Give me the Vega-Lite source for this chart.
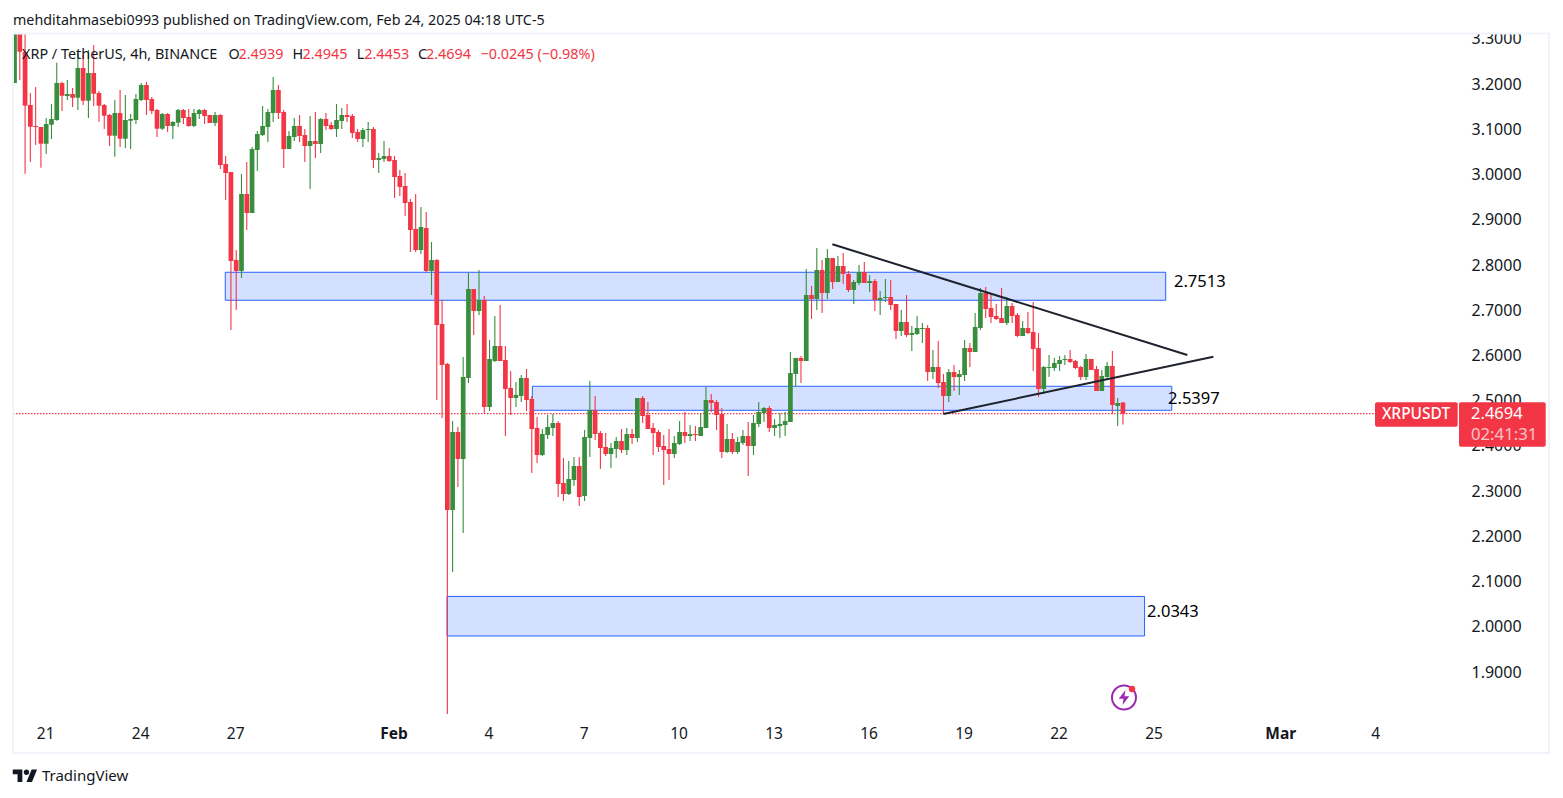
{"$schema":"https://vega.github.io/schema/vega-lite/v6.json","width":1563,"height":798,"padding":0,"autosize":{"type":"none"},"background":"white","view":{"stroke":null},
"datasets":{"candles":[
{"t":"2025-01-20T00:00Z","o":3.2005,"h":3.3177,"l":3.2005,"c":3.3177},
{"t":"2025-01-20T04:00Z","o":3.3088,"h":3.3177,"l":3.2071,"c":3.2697},
{"t":"2025-01-20T08:00Z","o":3.269,"h":3.3088,"l":2.9999,"c":3.1503},
{"t":"2025-01-20T12:00Z","o":3.1518,"h":3.1783,"l":3.0258,"c":3.1038},
{"t":"2025-01-20T16:00Z","o":3.1054,"h":3.1916,"l":3.0633,"c":3.1032},
{"t":"2025-01-20T20:00Z","o":3.1032,"h":3.1032,"l":3.0131,"c":3.0662},
{"t":"2025-01-21T00:00Z","o":3.0662,"h":3.123,"l":3.0434,"c":3.1098},
{"t":"2025-01-21T04:00Z","o":3.1082,"h":3.154,"l":3.0766,"c":3.1208},
{"t":"2025-01-21T08:00Z","o":3.1186,"h":3.2453,"l":3.1171,"c":3.2005},
{"t":"2025-01-21T12:00Z","o":3.2005,"h":3.2033,"l":3.1385,"c":3.1724},
{"t":"2025-01-21T16:00Z","o":3.1717,"h":3.2071,"l":3.1629,"c":3.1761},
{"t":"2025-01-21T20:00Z","o":3.1761,"h":3.1894,"l":3.1474,"c":3.1679},
{"t":"2025-01-22T00:00Z","o":3.1679,"h":3.2668,"l":3.1407,"c":3.2336},
{"t":"2025-01-22T04:00Z","o":3.2336,"h":3.2624,"l":3.1518,"c":3.1613},
{"t":"2025-01-22T08:00Z","o":3.1613,"h":3.2734,"l":3.123,"c":3.2226},
{"t":"2025-01-22T12:00Z","o":3.2226,"h":3.2845,"l":3.1496,"c":3.1768},
{"t":"2025-01-22T16:00Z","o":3.1783,"h":3.1828,"l":3.1149,"c":3.1503},
{"t":"2025-01-22T20:00Z","o":3.1518,"h":3.154,"l":3.0987,"c":3.1281},
{"t":"2025-01-23T00:00Z","o":3.1297,"h":3.1319,"l":3.0611,"c":3.0839},
{"t":"2025-01-23T04:00Z","o":3.0839,"h":3.1629,"l":3.0375,"c":3.1341},
{"t":"2025-01-23T08:00Z","o":3.1341,"h":3.185,"l":3.0589,"c":3.0773},
{"t":"2025-01-23T12:00Z","o":3.0773,"h":3.1739,"l":3.0567,"c":3.1186},
{"t":"2025-01-23T16:00Z","o":3.1171,"h":3.1319,"l":3.0545,"c":3.1208},
{"t":"2025-01-23T20:00Z","o":3.1186,"h":3.1761,"l":3.1098,"c":3.1651},
{"t":"2025-01-24T00:00Z","o":3.1629,"h":3.2005,"l":3.1607,"c":3.196},
{"t":"2025-01-24T04:00Z","o":3.196,"h":3.2027,"l":3.1297,"c":3.1629},
{"t":"2025-01-24T08:00Z","o":3.1651,"h":3.1695,"l":3.1319,"c":3.1385},
{"t":"2025-01-24T12:00Z","o":3.1407,"h":3.143,"l":3.081,"c":3.0994},
{"t":"2025-01-24T16:00Z","o":3.0994,"h":3.1341,"l":3.0965,"c":3.1319},
{"t":"2025-01-24T20:00Z","o":3.1319,"h":3.1341,"l":3.0921,"c":3.1054},
{"t":"2025-01-25T00:00Z","o":3.1054,"h":3.1164,"l":3.0766,"c":3.1142},
{"t":"2025-01-25T04:00Z","o":3.1127,"h":3.143,"l":3.1032,"c":3.1407},
{"t":"2025-01-25T08:00Z","o":3.1407,"h":3.143,"l":3.1098,"c":3.123},
{"t":"2025-01-25T12:00Z","o":3.1253,"h":3.143,"l":3.1038,"c":3.1054},
{"t":"2025-01-25T16:00Z","o":3.1054,"h":3.143,"l":3.1032,"c":3.1341},
{"t":"2025-01-25T20:00Z","o":3.1319,"h":3.143,"l":3.1208,"c":3.1407},
{"t":"2025-01-26T00:00Z","o":3.1407,"h":3.143,"l":3.1098,"c":3.1275},
{"t":"2025-01-26T04:00Z","o":3.1297,"h":3.1297,"l":3.112,"c":3.112},
{"t":"2025-01-26T08:00Z","o":3.112,"h":3.1363,"l":3.1054,"c":3.1297},
{"t":"2025-01-26T12:00Z","o":3.1297,"h":3.1319,"l":3.0103,"c":3.0191},
{"t":"2025-01-26T16:00Z","o":3.0213,"h":3.039,"l":2.9417,"c":3.0014},
{"t":"2025-01-26T20:00Z","o":3.0036,"h":3.0036,"l":2.6542,"c":2.8068},
{"t":"2025-01-27T00:00Z","o":2.809,"h":2.8312,"l":2.6985,"c":2.7847},
{"t":"2025-01-27T04:00Z","o":2.7847,"h":2.9992,"l":2.7692,"c":2.955},
{"t":"2025-01-27T08:00Z","o":2.955,"h":3.0258,"l":2.8754,"c":2.913},
{"t":"2025-01-27T12:00Z","o":2.913,"h":3.0589,"l":2.913,"c":3.0545},
{"t":"2025-01-27T16:00Z","o":3.0523,"h":3.0943,"l":3.0059,"c":3.0877},
{"t":"2025-01-27T20:00Z","o":3.0855,"h":3.1496,"l":3.0833,"c":3.1054},
{"t":"2025-01-28T00:00Z","o":3.1032,"h":3.143,"l":3.07,"c":3.1363},
{"t":"2025-01-28T04:00Z","o":3.1341,"h":3.2137,"l":3.1142,"c":3.185},
{"t":"2025-01-28T08:00Z","o":3.185,"h":3.196,"l":3.1208,"c":3.1341},
{"t":"2025-01-28T12:00Z","o":3.1363,"h":3.1407,"l":3.0125,"c":3.0545},
{"t":"2025-01-28T16:00Z","o":3.0545,"h":3.0943,"l":3.0545,"c":3.0833},
{"t":"2025-01-28T20:00Z","o":3.081,"h":3.123,"l":3.0722,"c":3.1054},
{"t":"2025-01-29T00:00Z","o":3.1054,"h":3.1297,"l":3.07,"c":3.0833},
{"t":"2025-01-29T04:00Z","o":3.0855,"h":3.0987,"l":3.0258,"c":3.0611},
{"t":"2025-01-29T08:00Z","o":3.0611,"h":3.1275,"l":2.966,"c":3.0722},
{"t":"2025-01-29T12:00Z","o":3.0722,"h":3.1363,"l":3.0346,"c":3.0656},
{"t":"2025-01-29T16:00Z","o":3.0656,"h":3.123,"l":3.0456,"c":3.1208},
{"t":"2025-01-29T20:00Z","o":3.1208,"h":3.1341,"l":3.0965,"c":3.1054},
{"t":"2025-01-30T00:00Z","o":3.1076,"h":3.1142,"l":3.0965,"c":3.0987},
{"t":"2025-01-30T04:00Z","o":3.0987,"h":3.154,"l":3.081,"c":3.1186},
{"t":"2025-01-30T08:00Z","o":3.1164,"h":3.1452,"l":3.0987,"c":3.1297},
{"t":"2025-01-30T12:00Z","o":3.1297,"h":3.154,"l":3.1142,"c":3.1253},
{"t":"2025-01-30T16:00Z","o":3.1275,"h":3.1319,"l":3.0788,"c":3.0899},
{"t":"2025-01-30T20:00Z","o":3.0921,"h":3.0987,"l":3.07,"c":3.0766},
{"t":"2025-01-31T00:00Z","o":3.0766,"h":3.1009,"l":3.0589,"c":3.0965},
{"t":"2025-01-31T04:00Z","o":3.0965,"h":3.1142,"l":3.07,"c":3.0987},
{"t":"2025-01-31T08:00Z","o":3.0987,"h":3.1032,"l":3.0125,"c":3.0302},
{"t":"2025-01-31T12:00Z","o":3.0302,"h":3.0456,"l":3.0014,"c":3.0346},
{"t":"2025-01-31T16:00Z","o":3.0324,"h":3.0722,"l":3.0258,"c":3.039},
{"t":"2025-01-31T20:00Z","o":3.039,"h":3.0567,"l":3.0258,"c":3.028},
{"t":"2025-02-01T00:00Z","o":3.0302,"h":3.039,"l":2.9461,"c":2.9926},
{"t":"2025-02-01T04:00Z","o":2.9948,"h":3.0081,"l":2.9506,"c":2.9705},
{"t":"2025-02-01T08:00Z","o":2.9727,"h":3.0014,"l":2.9063,"c":2.9351},
{"t":"2025-02-01T12:00Z","o":2.9373,"h":2.9439,"l":2.8267,"c":2.8754},
{"t":"2025-02-01T16:00Z","o":2.8776,"h":2.955,"l":2.8267,"c":2.8312},
{"t":"2025-02-01T20:00Z","o":2.8312,"h":2.9262,"l":2.8223,"c":2.882},
{"t":"2025-02-02T00:00Z","o":2.8798,"h":2.9152,"l":2.7825,"c":2.7847},
{"t":"2025-02-02T04:00Z","o":2.7847,"h":2.8488,"l":2.7316,"c":2.809},
{"t":"2025-02-02T08:00Z","o":2.809,"h":2.8113,"l":2.4994,"c":2.6653},
{"t":"2025-02-02T12:00Z","o":2.6675,"h":2.7206,"l":2.4596,"c":2.5768},
{"t":"2025-02-02T16:00Z","o":2.5791,"h":2.5813,"l":1.8051,"c":2.2562},
{"t":"2025-02-02T20:00Z","o":2.2562,"h":2.453,"l":2.1191,"c":2.4287},
{"t":"2025-02-03T00:00Z","o":2.4287,"h":2.4397,"l":2.307,"c":2.369},
{"t":"2025-02-03T04:00Z","o":2.369,"h":2.5945,"l":2.2053,"c":2.5503},
{"t":"2025-02-03T08:00Z","o":2.5481,"h":2.7803,"l":2.537,"c":2.7449},
{"t":"2025-02-03T12:00Z","o":2.7449,"h":2.7449,"l":2.6432,"c":2.6963},
{"t":"2025-02-03T16:00Z","o":2.6963,"h":2.7869,"l":2.6874,"c":2.7206},
{"t":"2025-02-03T20:00Z","o":2.7206,"h":2.7294,"l":2.4707,"c":2.484},
{"t":"2025-02-04T00:00Z","o":2.484,"h":2.6321,"l":2.4751,"c":2.5901},
{"t":"2025-02-04T04:00Z","o":2.5857,"h":2.6852,"l":2.5835,"c":2.6188},
{"t":"2025-02-04T08:00Z","o":2.6188,"h":2.7095,"l":2.5857,"c":2.5857},
{"t":"2025-02-04T12:00Z","o":2.5879,"h":2.6188,"l":2.4198,"c":2.5238},
{"t":"2025-02-04T16:00Z","o":2.526,"h":2.5636,"l":2.4663,"c":2.5039},
{"t":"2025-02-04T20:00Z","o":2.5039,"h":2.5393,"l":2.484,"c":2.5105},
{"t":"2025-02-05T00:00Z","o":2.5083,"h":2.5547,"l":2.495,"c":2.5481},
{"t":"2025-02-05T04:00Z","o":2.5481,"h":2.568,"l":2.4751,"c":2.4994},
{"t":"2025-02-05T08:00Z","o":2.5017,"h":2.5083,"l":2.338,"c":2.4353},
{"t":"2025-02-05T12:00Z","o":2.4375,"h":2.4618,"l":2.3601,"c":2.3778},
{"t":"2025-02-05T16:00Z","o":2.3778,"h":2.4353,"l":2.3756,"c":2.4243},
{"t":"2025-02-05T20:00Z","o":2.4221,"h":2.4663,"l":2.4132,"c":2.4397},
{"t":"2025-02-06T00:00Z","o":2.4375,"h":2.4685,"l":2.4198,"c":2.4486},
{"t":"2025-02-06T04:00Z","o":2.4486,"h":2.453,"l":2.2849,"c":2.3137},
{"t":"2025-02-06T08:00Z","o":2.3159,"h":2.3712,"l":2.2761,"c":2.2915},
{"t":"2025-02-06T12:00Z","o":2.2915,"h":2.3645,"l":2.2893,"c":2.3247},
{"t":"2025-02-06T16:00Z","o":2.3225,"h":2.3734,"l":2.3093,"c":2.3535},
{"t":"2025-02-06T20:00Z","o":2.3535,"h":2.3734,"l":2.265,"c":2.2849},
{"t":"2025-02-07T00:00Z","o":2.2871,"h":2.4331,"l":2.2761,"c":2.4176},
{"t":"2025-02-07T04:00Z","o":2.4154,"h":2.5415,"l":2.3734,"c":2.4773},
{"t":"2025-02-07T08:00Z","o":2.4773,"h":2.5083,"l":2.411,"c":2.4243},
{"t":"2025-02-07T12:00Z","o":2.4264,"h":2.4309,"l":2.3469,"c":2.3933},
{"t":"2025-02-07T16:00Z","o":2.3955,"h":2.4264,"l":2.3756,"c":2.38},
{"t":"2025-02-07T20:00Z","o":2.38,"h":2.4044,"l":2.3491,"c":2.3933},
{"t":"2025-02-08T00:00Z","o":2.3911,"h":2.4176,"l":2.3712,"c":2.4088},
{"t":"2025-02-08T04:00Z","o":2.4088,"h":2.4353,"l":2.3822,"c":2.3889},
{"t":"2025-02-08T08:00Z","o":2.3889,"h":2.4375,"l":2.3778,"c":2.4243},
{"t":"2025-02-08T12:00Z","o":2.4243,"h":2.4353,"l":2.4022,"c":2.4154},
{"t":"2025-02-08T16:00Z","o":2.4154,"h":2.5039,"l":2.4066,"c":2.5039},
{"t":"2025-02-08T20:00Z","o":2.5039,"h":2.5083,"l":2.4486,"c":2.4641},
{"t":"2025-02-09T00:00Z","o":2.4663,"h":2.495,"l":2.4353,"c":2.4353},
{"t":"2025-02-09T04:00Z","o":2.4375,"h":2.4486,"l":2.3778,"c":2.4264},
{"t":"2025-02-09T08:00Z","o":2.4287,"h":2.4331,"l":2.3845,"c":2.3955},
{"t":"2025-02-09T12:00Z","o":2.3977,"h":2.422,"l":2.3115,"c":2.3889},
{"t":"2025-02-09T16:00Z","o":2.3911,"h":2.4353,"l":2.3225,"c":2.38},
{"t":"2025-02-09T20:00Z","o":2.38,"h":2.4198,"l":2.3712,"c":2.4044},
{"t":"2025-02-10T00:00Z","o":2.4022,"h":2.453,"l":2.4,"c":2.4287},
{"t":"2025-02-10T04:00Z","o":2.4287,"h":2.4729,"l":2.4044,"c":2.4198},
{"t":"2025-02-10T08:00Z","o":2.4198,"h":2.4442,"l":2.4088,"c":2.4243},
{"t":"2025-02-10T12:00Z","o":2.4243,"h":2.442,"l":2.4088,"c":2.4221},
{"t":"2025-02-10T16:00Z","o":2.4198,"h":2.4685,"l":2.4198,"c":2.4397},
{"t":"2025-02-10T20:00Z","o":2.4375,"h":2.5282,"l":2.4375,"c":2.4994},
{"t":"2025-02-11T00:00Z","o":2.4994,"h":2.5127,"l":2.4729,"c":2.4928},
{"t":"2025-02-11T04:00Z","o":2.495,"h":2.4994,"l":2.4331,"c":2.4663},
{"t":"2025-02-11T08:00Z","o":2.4685,"h":2.4817,"l":2.3712,"c":2.3845},
{"t":"2025-02-11T12:00Z","o":2.3845,"h":2.4464,"l":2.3822,"c":2.4132},
{"t":"2025-02-11T16:00Z","o":2.4132,"h":2.4264,"l":2.38,"c":2.3845},
{"t":"2025-02-11T20:00Z","o":2.3845,"h":2.4176,"l":2.38,"c":2.4066},
{"t":"2025-02-12T00:00Z","o":2.4044,"h":2.4331,"l":2.4,"c":2.4198},
{"t":"2025-02-12T04:00Z","o":2.4198,"h":2.4508,"l":2.3314,"c":2.3977},
{"t":"2025-02-12T08:00Z","o":2.3977,"h":2.4663,"l":2.3778,"c":2.4486},
{"t":"2025-02-12T12:00Z","o":2.4464,"h":2.495,"l":2.4397,"c":2.4729},
{"t":"2025-02-12T16:00Z","o":2.4707,"h":2.484,"l":2.4508,"c":2.4817},
{"t":"2025-02-12T20:00Z","o":2.4817,"h":2.4862,"l":2.4287,"c":2.4375},
{"t":"2025-02-13T00:00Z","o":2.4375,"h":2.4574,"l":2.4198,"c":2.4442},
{"t":"2025-02-13T04:00Z","o":2.442,"h":2.4707,"l":2.4154,"c":2.4464},
{"t":"2025-02-13T08:00Z","o":2.4442,"h":2.4729,"l":2.4198,"c":2.453},
{"t":"2025-02-13T12:00Z","o":2.4508,"h":2.6056,"l":2.4508,"c":2.5592},
{"t":"2025-02-13T16:00Z","o":2.5569,"h":2.5923,"l":2.5282,"c":2.5923},
{"t":"2025-02-13T20:00Z","o":2.5923,"h":2.5967,"l":2.537,"c":2.5857},
{"t":"2025-02-14T00:00Z","o":2.5857,"h":2.7891,"l":2.5857,"c":2.7316},
{"t":"2025-02-14T04:00Z","o":2.7316,"h":2.7515,"l":2.6786,"c":2.7228},
{"t":"2025-02-14T08:00Z","o":2.7228,"h":2.8356,"l":2.6985,"c":2.7869},
{"t":"2025-02-14T12:00Z","o":2.7869,"h":2.809,"l":2.6919,"c":2.7361},
{"t":"2025-02-14T16:00Z","o":2.7361,"h":2.8334,"l":2.7228,"c":2.8135},
{"t":"2025-02-14T20:00Z","o":2.8135,"h":2.8135,"l":2.7449,"c":2.7604},
{"t":"2025-02-15T00:00Z","o":2.7604,"h":2.8179,"l":2.7604,"c":2.7957},
{"t":"2025-02-15T04:00Z","o":2.7957,"h":2.8245,"l":2.756,"c":2.7781},
{"t":"2025-02-15T08:00Z","o":2.7781,"h":2.7847,"l":2.7383,"c":2.7427},
{"t":"2025-02-15T12:00Z","o":2.7427,"h":2.7648,"l":2.7118,"c":2.7604},
{"t":"2025-02-15T16:00Z","o":2.7582,"h":2.798,"l":2.7538,"c":2.7825},
{"t":"2025-02-15T20:00Z","o":2.7825,"h":2.8046,"l":2.7582,"c":2.7582},
{"t":"2025-02-16T00:00Z","o":2.7582,"h":2.7759,"l":2.7383,"c":2.7626},
{"t":"2025-02-16T04:00Z","o":2.7626,"h":2.767,"l":2.6963,"c":2.7206},
{"t":"2025-02-16T08:00Z","o":2.7206,"h":2.7405,"l":2.6874,"c":2.725},
{"t":"2025-02-16T12:00Z","o":2.725,"h":2.767,"l":2.7162,"c":2.7272},
{"t":"2025-02-16T16:00Z","o":2.7272,"h":2.7648,"l":2.6985,"c":2.7095},
{"t":"2025-02-16T20:00Z","o":2.7117,"h":2.7117,"l":2.6343,"c":2.652},
{"t":"2025-02-17T00:00Z","o":2.652,"h":2.6985,"l":2.641,"c":2.6719},
{"t":"2025-02-17T04:00Z","o":2.6719,"h":2.7316,"l":2.6388,"c":2.6432},
{"t":"2025-02-17T08:00Z","o":2.6432,"h":2.6631,"l":2.6078,"c":2.6476},
{"t":"2025-02-17T12:00Z","o":2.6454,"h":2.6852,"l":2.6432,"c":2.6587},
{"t":"2025-02-17T16:00Z","o":2.6565,"h":2.6697,"l":2.6255,"c":2.6587},
{"t":"2025-02-17T20:00Z","o":2.6587,"h":2.6653,"l":2.5415,"c":2.5613},
{"t":"2025-02-18T00:00Z","o":2.5613,"h":2.61,"l":2.5459,"c":2.5724},
{"t":"2025-02-18T04:00Z","o":2.5724,"h":2.6299,"l":2.526,"c":2.537},
{"t":"2025-02-18T08:00Z","o":2.5393,"h":2.5569,"l":2.4685,"c":2.5083},
{"t":"2025-02-18T12:00Z","o":2.5083,"h":2.568,"l":2.495,"c":2.5613},
{"t":"2025-02-18T16:00Z","o":2.5613,"h":2.5768,"l":2.5194,"c":2.5503},
{"t":"2025-02-18T20:00Z","o":2.5503,"h":2.5658,"l":2.5105,"c":2.5569},
{"t":"2025-02-19T00:00Z","o":2.5547,"h":2.6321,"l":2.5415,"c":2.6144},
{"t":"2025-02-19T04:00Z","o":2.6144,"h":2.6255,"l":2.5724,"c":2.6056},
{"t":"2025-02-19T08:00Z","o":2.6056,"h":2.6919,"l":2.6056,"c":2.6609},
{"t":"2025-02-19T12:00Z","o":2.6587,"h":2.7471,"l":2.6542,"c":2.7361},
{"t":"2025-02-19T16:00Z","o":2.7361,"h":2.7493,"l":2.6808,"c":2.7007},
{"t":"2025-02-19T20:00Z","o":2.7029,"h":2.7339,"l":2.6697,"c":2.683},
{"t":"2025-02-20T00:00Z","o":2.6852,"h":2.7117,"l":2.6764,"c":2.6786},
{"t":"2025-02-20T04:00Z","o":2.6808,"h":2.7471,"l":2.6697,"c":2.6697},
{"t":"2025-02-20T08:00Z","o":2.6697,"h":2.7272,"l":2.6653,"c":2.7073},
{"t":"2025-02-20T12:00Z","o":2.7073,"h":2.7139,"l":2.6697,"c":2.6852},
{"t":"2025-02-20T16:00Z","o":2.6874,"h":2.6919,"l":2.6388,"c":2.641},
{"t":"2025-02-20T20:00Z","o":2.641,"h":2.6741,"l":2.641,"c":2.6587},
{"t":"2025-02-21T00:00Z","o":2.6587,"h":2.6941,"l":2.6454,"c":2.6476},
{"t":"2025-02-21T04:00Z","o":2.6498,"h":2.7162,"l":2.5636,"c":2.6122},
{"t":"2025-02-21T08:00Z","o":2.6144,"h":2.6476,"l":2.5061,"c":2.5238},
{"t":"2025-02-21T12:00Z","o":2.5238,"h":2.5746,"l":2.5127,"c":2.5724},
{"t":"2025-02-21T16:00Z","o":2.5702,"h":2.5989,"l":2.5503,"c":2.5724},
{"t":"2025-02-21T20:00Z","o":2.5702,"h":2.5923,"l":2.5636,"c":2.5813},
{"t":"2025-02-22T00:00Z","o":2.5791,"h":2.5967,"l":2.5636,"c":2.5879},
{"t":"2025-02-22T04:00Z","o":2.5879,"h":2.5989,"l":2.5768,"c":2.5901},
{"t":"2025-02-22T08:00Z","o":2.5901,"h":2.61,"l":2.5813,"c":2.5835},
{"t":"2025-02-22T12:00Z","o":2.5857,"h":2.5879,"l":2.568,"c":2.5702},
{"t":"2025-02-22T16:00Z","o":2.5724,"h":2.5746,"l":2.5437,"c":2.5503},
{"t":"2025-02-22T20:00Z","o":2.5503,"h":2.6012,"l":2.5437,"c":2.5901},
{"t":"2025-02-23T00:00Z","o":2.5901,"h":2.5901,"l":2.5658,"c":2.5658},
{"t":"2025-02-23T04:00Z","o":2.568,"h":2.5746,"l":2.5194,"c":2.5194},
{"t":"2025-02-23T08:00Z","o":2.5194,"h":2.5658,"l":2.5194,"c":2.5525},
{"t":"2025-02-23T12:00Z","o":2.5503,"h":2.5835,"l":2.5437,"c":2.5746},
{"t":"2025-02-23T16:00Z","o":2.5746,"h":2.6078,"l":2.4685,"c":2.4884},
{"t":"2025-02-23T20:00Z","o":2.4862,"h":2.5039,"l":2.442,"c":2.4928},
{"t":"2025-02-24T00:00Z","o":2.4939,"h":2.4945,"l":2.4453,"c":2.4694}
]},
"encoding":{
"x":{"field":"t","type":"temporal","scale":{"type":"utc","domain":[1737291564000,1741555800000],"nice":false,"padding":0},
"axis":{"values":[1737417600000,1737676800000,1737936000000,1738368000000,1738627200000,1738886400000,1739145600000,1739404800000,1739664000000,1739923200000,1740182400000,1740441600000,1740787200000,1741046400000],"orient":"bottom","offset":-65,"title":null,"grid":false,"ticks":false,"domain":false,"labelPadding":0,"labelOffset":-1,"labelBaseline":"middle","labelAlign":"center","labelFlush":false,"labelOverlap":false,"labelBound":false,"labelFont":"Noto Sans","labelFontSize":15.5,"labelColor":"#131722","labelExpr":"utcdate(datum.value)==1?(utcmonth(datum.value)==1?'Feb':'Mar'):''+utcdate(datum.value)","labelFontWeight":{"condition":{"test":"utcdate(datum.value)==1","value":"bold"},"value":"normal"}}},
"y":{"field":"p","type":"quantitative","scale":{"domain":[1.6193,3.384],"zero":false,"nice":false},
"axis":{"values":[1.9,2.0,2.1,2.2,2.3,2.4,2.5,2.6,2.7,2.8,2.9,3.0,3.1,3.2,3.3],"orient":"right","offset":-92,"format":".4f","title":null,"grid":false,"ticks":false,"domain":false,"labelPadding":0,"labelOffset":1,"labelAlign":"left","labelBaseline":"middle","labelOverlap":false,"labelBound":false,"labelFont":"Noto Sans","labelFontSize":16,"labelColor":"#131722"}}
},
"layer":[
{"data":{"values":[
{"t":"2025-01-26T15:43Z","t2":"2025-02-25T08:24Z","p":2.7819,"p2":2.72},
{"t":"2025-02-05T08:24Z","t2":"2025-02-25T13:00Z","p":2.5298,"p2":2.4767},
{"t":"2025-02-02T15:48Z","t2":"2025-02-24T16:24Z","p":2.0649,"p2":1.9776}]},
"mark":{"type":"rect","fill":"#d4e0ff","stroke":"#2962ff","strokeWidth":1},
"encoding":{"x2":{"field":"t2"},"y2":{"field":"p2"}}},
{"data":{"values":[{"t":"2025-01-19T22:50Z","t2":"2025-03-03T23:03Z","p":2.4694}]},
"mark":{"type":"rule","color":"#f23645","strokeWidth":1.2,"strokeDash":[1.5,1.5]},
"encoding":{"x2":{"field":"t2"}}},
{"data":{"name":"candles"},"mark":{"type":"rule","strokeWidth":1.1},
"encoding":{"y":{"field":"h","type":"quantitative","scale":{"domain":[1.6193,3.384],"zero":false,"nice":false},"axis":{"values":[1.9,2.0,2.1,2.2,2.3,2.4,2.5,2.6,2.7,2.8,2.9,3.0,3.1,3.2,3.3],"orient":"right","offset":-92,"format":".4f","title":null,"grid":false,"ticks":false,"domain":false,"labelPadding":0,"labelOffset":1,"labelAlign":"left","labelBaseline":"middle","labelOverlap":false,"labelBound":false,"labelFont":"Noto Sans","labelFontSize":16,"labelColor":"#131722"}},"y2":{"field":"l"},
"color":{"condition":{"test":"datum.c>=datum.o","value":"#388e3c"},"value":"#f23645"}}},
{"data":{"name":"candles"},"mark":{"type":"bar","width":4.7},
"encoding":{"y":{"field":"o","type":"quantitative","scale":{"domain":[1.6193,3.384],"zero":false,"nice":false},"axis":{"values":[1.9,2.0,2.1,2.2,2.3,2.4,2.5,2.6,2.7,2.8,2.9,3.0,3.1,3.2,3.3],"orient":"right","offset":-92,"format":".4f","title":null,"grid":false,"ticks":false,"domain":false,"labelPadding":0,"labelOffset":1,"labelAlign":"left","labelBaseline":"middle","labelOverlap":false,"labelBound":false,"labelFont":"Noto Sans","labelFontSize":16,"labelColor":"#131722"}},"y2":{"field":"c"},
"color":{"condition":{"test":"datum.c>=datum.o","value":"#388e3c"},"value":"#f23645"}}},
{"data":{"values":[
{"t":"2025-02-14T19:48Z","p":2.8438,"line":"upper"},{"t":"2025-02-26T00:48Z","p":2.599,"line":"upper"},
{"t":"2025-02-18T07:54Z","p":2.4685,"line":"lower"},{"t":"2025-02-26T20:30Z","p":2.5952,"line":"lower"}]},
"mark":{"type":"line","color":"#1e222d","strokeWidth":2},"encoding":{"detail":{"field":"line"}}},
{"data":{"values":[
{"t":"2025-02-25T14:42Z","p":2.7604,"txt":"2.7513"},
{"t":"2025-02-25T10:12Z","p":2.5017,"txt":"2.5397"},
{"t":"2025-02-24T18:18Z","p":2.0307,"txt":"2.0343"}]},
"mark":{"type":"text","align":"left","baseline":"middle","font":"Noto Sans","fontSize":16.5,"color":"#000000"},"encoding":{"text":{"field":"txt"}}},
{"data":{"values":[
{"t":"2025-03-03T23:03Z","t2":"2025-03-06T13:42Z","p":2.4944,"p2":2.4404},
{"t":"2025-03-06T14:42Z","t2":"2025-03-09T08:24Z","p":2.4944,"p2":2.3962}]},
"mark":{"type":"rect","fill":"#f23645","cornerRadius":2},"encoding":{"x2":{"field":"t2"},"y2":{"field":"p2"}}},
{"data":{"values":[{"t":"2025-03-05T06:06Z","p":2.4674,"txt":"XRPUSDT"}]},
"mark":{"type":"text","align":"center","baseline":"middle","font":"Noto Sans","fontSize":15.5,"fontWeight":500,"color":"#ffffff"},"encoding":{"text":{"field":"txt"}}},
{"data":{"values":[{"t":"2025-03-06T23:48Z","p":2.4674,"txt":"2.4694"}]},
"mark":{"type":"text","align":"left","baseline":"middle","font":"Noto Sans","fontSize":16.5,"color":"#ffffff"},"encoding":{"text":{"field":"txt"}}},
{"data":{"values":[{"t":"2025-03-06T23:48Z","p":2.4221,"txt":"02:41:31"}]},
"mark":{"type":"text","align":"left","baseline":"middle","font":"Noto Sans","fontSize":16.7,"color":"#ffffff","opacity":0.7},"encoding":{"text":{"field":"txt"}}},
{"data":{"values":[
{"t":1737291564000,"t2":1741555800000,"p":3.384,"p2":3.31},
{"t":1737291564000,"t2":"2025-01-19T22:50Z","p":3.384,"p2":1.6193}]},
"mark":{"type":"rect","fill":"#ffffff"},"encoding":{"x2":{"field":"t2"},"y2":{"field":"p2"}}},
{"data":{"values":[{"t":"2025-01-19T22:50Z","t2":"2025-03-09T10:54Z","p":3.31,"p2":1.7189}]},
"mark":{"type":"rect","filled":false,"stroke":"#f0f3fa","strokeWidth":2},"encoding":{"x2":{"field":"t2"},"y2":{"field":"p2"}}},
{"data":{"values":[{"t":"2025-01-19T22:50Z","p":3.3376,"txt":"mehditahmasebi0993 published on TradingView.com, Feb 24, 2025 04:18 UTC-5"}]},
"mark":{"type":"text","align":"left","baseline":"middle","font":"Noto Sans","fontSize":14.3,"color":"#131722"},"encoding":{"text":{"field":"txt"}}},
{"data":{"values":[
{"t":"2025-01-20T05:40Z","p":3.2624,"txt":"XRP / TetherUS, 4h, BINANCE"},
{"t":"2025-01-26T18:12Z","p":3.2624,"txt":"O"},
{"t":"2025-01-28T18:42Z","p":3.2624,"txt":"H"},
{"t":"2025-01-30T19:18Z","p":3.2624,"txt":"L"},
{"t":"2025-02-01T17:48Z","p":3.2624,"txt":"C"}]},
"mark":{"type":"text","align":"left","baseline":"middle","font":"Noto Sans","fontSize":14.4,"color":"#131722"},"encoding":{"text":{"field":"txt"}}},
{"data":{"values":[
{"t":"2025-01-27T01:42Z","p":3.2624,"txt":"2.4939"},
{"t":"2025-01-29T02:12Z","p":3.2624,"txt":"2.4945"},
{"t":"2025-01-31T01:00Z","p":3.2624,"txt":"2.4453"},
{"t":"2025-02-01T23:48Z","p":3.2624,"txt":"2.4694"},
{"t":"2025-02-03T17:06Z","p":3.2624,"txt":"−0.0245 (−0.98%)"}]},
"mark":{"type":"text","align":"left","baseline":"middle","font":"Noto Sans","fontSize":14.4,"color":"#f23645"},"encoding":{"text":{"field":"txt"}}},
{"data":{"values":[{"t":"2025-01-20T20:48Z","p":1.6669,"txt":"TradingView"}]},
"mark":{"type":"text","align":"left","baseline":"middle","font":"Noto Sans","fontSize":15,"color":"#131722"},"encoding":{"text":{"field":"txt"}}},
{"data":{"values":[{"t":"2025-01-20T08:00Z","p":1.6686}]},
"mark":{"type":"point","filled":true,"color":"#131722","opacity":1,"size":2440,"shape":"M-.111 .25H-.306V-.056H-.5V-.25H-.111ZM.278 .25H.056L.264 -.25H.486ZM-.055 -.139a.111 .111 0 1 0 .222 0a.111 .111 0 1 0 -.222 0Z"}},
{"data":{"values":[{"t":"2025-02-24T00:48Z","p":1.8416}]},
"mark":{"type":"point","filled":false,"color":"#9c27b0","strokeWidth":2,"opacity":1,"size":576,"shape":"circle"}},
{"data":{"values":[{"t":"2025-02-24T00:48Z","p":1.8416}]},
"mark":{"type":"point","filled":true,"color":"#9c27b0","opacity":1,"size":900,"shape":"M.1 -.5L-.35 .08H-.03L-.1 .5L.35 -.08H.03Z"}},
{"data":{"values":[{"t":"2025-02-24T06:54Z","p":1.8604}]},
"mark":{"type":"point","filled":true,"color":"#f23645","opacity":1,"size":42,"shape":"circle"}}
]}
